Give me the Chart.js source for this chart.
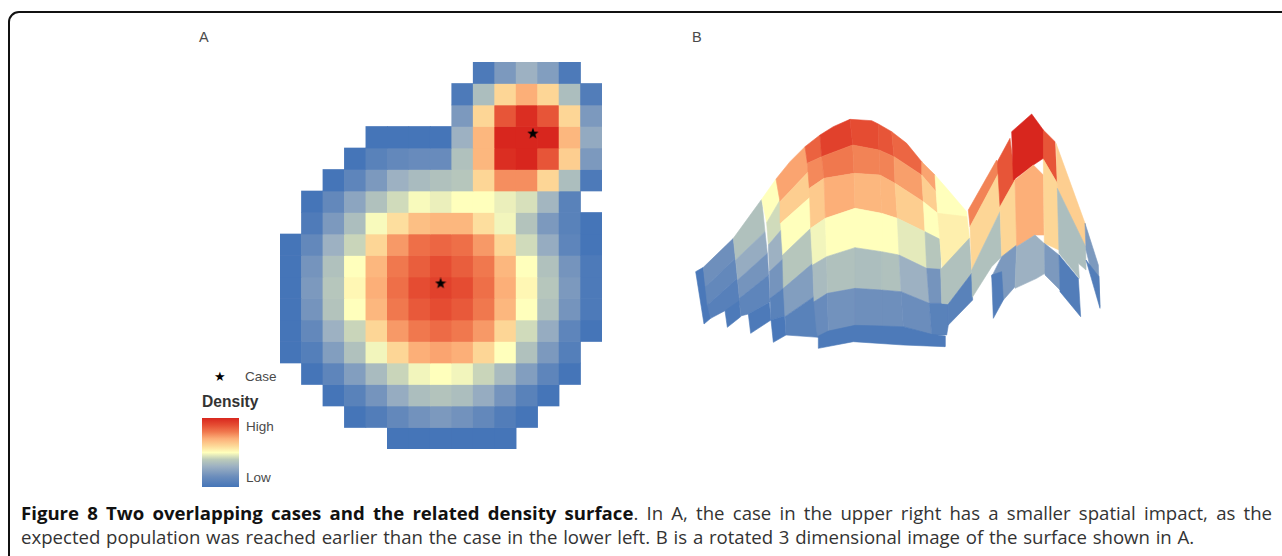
<!DOCTYPE html>
<html>
<head>
<meta charset="utf-8">
<title>Figure 8</title>
<script src="https://cdn.jsdelivr.net/npm/chart.js@4/dist/chart.umd.js"></script>
<style>
  html, body { margin: 0; background: #fff; }
  #page { position: relative; width: 1282px; height: 556px; overflow: hidden; font-family: "Liberation Sans", sans-serif; color: #4a4a4a; }
  #frame { position: absolute; left: 8px; top: 11px; width: 1400px; height: 700px; border: 2px solid #111; border-radius: 11px; box-sizing: border-box; }
  #gridBox { position: absolute; left: 280px; top: 62px; width: 322px; height: 387px; filter: blur(0.5px); }
  #surfaceBox { position: absolute; left: 690px; top: 100px; width: 420px; height: 260px; filter: blur(0.5px); }
  .tag { position: absolute; font-size: 13.5px; line-height: 14px; white-space: nowrap; }
  #ramp { position: absolute; left: 202px; top: 418px; width: 37px; height: 69px; filter: blur(0.4px); }
  .caption { position: absolute; left: 21px; width: 1251px; font-family: "Open Sans", sans-serif; font-size: 18.6px; line-height: 24px; word-spacing: 0.9px; color: #333; white-space: nowrap; }
  .caption b { color: #111; }
</style>
</head>
<body>
<div id="page">
  <div id="frame"></div>
  <div class="tag" style="left:199px;top:30px;font-size:14.5px">A</div>
  <div class="tag" style="left:692px;top:30px;font-size:14.5px">B</div>
  <div id="gridBox"><canvas id="gridChart"></canvas></div>
  <div id="surfaceBox"><canvas id="surfaceChart"></canvas></div>
  <div class="tag" style="left:214px;top:370px;color:#000;font-size:12.5px">★</div>
  <div class="tag" style="left:245px;top:370px">Case</div>
  <div class="tag" style="left:202px;top:395px;font-weight:bold;font-size:15.6px;color:#333">Density</div>
  <div id="ramp"></div>
  <div class="tag" style="left:246px;top:420px">High</div>
  <div class="tag" style="left:246px;top:471px">Low</div>
  <div class="caption" style="top:501px;white-space:normal;text-align:justify;text-align-last:justify"><b>Figure 8 Two overlapping cases and the related density surface</b>. In A, the case in the upper right has a smaller spatial impact, as the</div>
  <div class="caption" style="top:525px">expected population was reached earlier than the case in the lower left. B is a rotated 3 dimensional image of the surface shown in A.</div>
</div>
<script>
// colour ramp of the density legend, low to high
const rampStops = [0, 0.15, 0.3, 0.4, 0.5, 0.6, 0.7, 0.8, 0.9, 1];
const rampColors = ["#4575b8", "#6b8dbc", "#9db1c2", "#bccbba", "#ffffbc", "#fdd696", "#fcaf78", "#f0784e", "#e54c32", "#d8261e"];

// panel A, density per cell: first occupied column of each row, then the values
const firstColumn = [9, 8, 8, 4, 3, 2, 1, 1, 0, 0, 0, 0, 0, 0, 1, 2, 3, 5];
const densityRows = [
  [.03, .2, .3, .22, .03],
  [.03, .35, .6, .7, .6, .35, .05],
  [.2, .6, .88, .98, .88, .6, .2],
  [0, 0, 0, 0, .3, .68, 1, 1, 1, .68, .27],
  [0, .08, .12, .14, .14, .36, .68, .98, 1, .88, .62, .2],
  [0, .1, .2, .3, .34, .36, .38, .6, .76, .76, .6, .35, .03],
  [0, .12, .25, .36, .43, .49, .47, .5, .5, .47, .44, .32, .08],
  [.04, .2, .35, .49, .58, .66, .68, .68, .58, .48, .37, .2, .08, 0],
  [0, .12, .3, .42, .6, .74, .82, .84, .82, .74, .6, .43, .28, .1, 0],
  [0, .18, .36, .5, .68, .8, .86, .9, .86, .8, .68, .5, .36, .18, .03],
  [0, .2, .38, .52, .7, .82, .9, .93, .9, .82, .7, .52, .38, .2, .03],
  [0, .18, .37, .5, .68, .8, .87, .9, .87, .8, .68, .5, .36, .18, .03],
  [0, .12, .3, .42, .6, .74, .8, .83, .8, .74, .6, .43, .28, .1, 0],
  [0, .06, .22, .36, .48, .6, .7, .72, .7, .6, .5, .36, .2, .06],
  [0, .1, .22, .34, .42, .48, .5, .48, .42, .34, .22, .1, 0],
  [0, .08, .18, .28, .35, .37, .35, .28, .18, .08, 0],
  [0, .05, .12, .17, .2, .17, .12, .05, 0],
  [0, 0, 0, 0, 0, 0]
];
const columnLabels = ["0", "1", "2", "3", "4", "5", "6", "7", "8", "9", "10", "11", "12", "13", "14"];
const caseX = [11.78, 7.48];
const caseY = [3.33, 10.3];

// panel B, the rotated surface: density of each facet and its outline (x, y pairs), back to front
const facetLevels = [
  .02, .16, .12, .07, .03,
  .36, .28, .18, .1, .03,
  .5, .43, .3, .18, .08, .02,
  .72, .62, .5, .38, .22, .08,
  .85, .77, .63, .48, .34, .14,
  .93, .8, .7, .5, .36, .17,
  .9, .78, .68, .5, .35, .16,
  .88, .78, .68, .5, .36, .16,
  .84, .73, .62, .46, .3, .15,
  .72, .62, .5, .38, .18, .08,
  .5, .54, .36, .08,
  .03,
  .78, .6, .36,
  .88, .6, .2, .05,
  1, .7, .3,
  .88, .6, .2, .05,
  .62, .35, .2, .05
];
const facetOutlines = [
  [17,515, 40,502, 62,655, 42,672],
  [40,502, 130,415, 136,475, 46,560],
  [46,560, 136,475, 142,535, 52,615],
  [52,615, 142,535, 150,615, 105,632, 62,655],
  [105,632, 148,602, 152,650, 112,682],
  [130,415, 215,298, 225,395, 137,480],
  [137,480, 225,395, 232,460, 143,540],
  [143,540, 232,460, 236,525, 148,595],
  [148,595, 236,525, 240,605, 175,642, 152,648],
  [175,642, 238,607, 243,660, 182,700],
  [215,298, 258,237, 270,300, 230,368],
  [230,368, 270,300, 275,388, 235,435],
  [235,435, 275,388, 280,475, 238,515],
  [238,515, 280,475, 282,563, 240,595],
  [240,595, 282,563, 284,648, 243,660],
  [243,660, 284,648, 288,705, 250,727],
  [258,237, 300,185, 345,140, 355,215, 270,305],
  [270,305, 355,215, 362,290, 272,370],
  [272,370, 362,290, 362,385, 278,465],
  [278,465, 362,385, 368,490, 280,565],
  [280,565, 368,490, 372,590, 285,650],
  [285,650, 372,590, 385,680, 385,712, 288,705],
  [345,140, 390,105, 395,170, 352,190],
  [352,190, 395,170, 402,235, 358,265],
  [358,265, 402,235, 406,355, 362,385],
  [362,385, 406,355, 410,470, 368,495],
  [368,495, 410,470, 412,580, 372,605],
  [372,605, 412,580, 415,695, 385,712, 380,695],
  [390,105, 430,80, 480,58, 488,135, 395,170],
  [395,170, 488,135, 492,220, 402,235],
  [402,235, 492,220, 495,325, 406,355],
  [406,355, 495,325, 495,443, 410,470],
  [410,470, 495,443, 495,565, 412,580],
  [412,580, 495,565, 495,678, 415,695],
  [480,58, 545,62, 565,72, 567,150, 488,135],
  [488,135, 567,150, 570,225, 492,220],
  [492,220, 570,225, 575,340, 495,325],
  [495,325, 575,340, 575,455, 495,443],
  [495,443, 575,455, 575,570, 495,565],
  [495,565, 575,570, 575,680, 495,678],
  [565,72, 605,95, 612,170, 567,150],
  [567,150, 612,170, 615,250, 570,225],
  [570,225, 615,250, 622,355, 575,340],
  [575,340, 622,355, 627,465, 575,455],
  [575,455, 627,465, 633,575, 575,570],
  [575,570, 633,575, 640,680, 575,680],
  [605,95, 650,130, 695,185, 695,225, 612,170],
  [612,170, 695,225, 700,305, 615,250],
  [615,250, 700,305, 705,395, 622,355],
  [622,355, 705,395, 710,505, 627,465],
  [627,465, 710,505, 718,610, 633,575],
  [633,575, 718,610, 725,705, 640,680],
  [695,185, 735,225, 738,275, 695,225],
  [695,225, 738,275, 743,340, 700,305],
  [700,305, 743,340, 750,418, 705,395],
  [705,395, 750,418, 752,508, 710,505],
  [710,505, 752,508, 755,610, 718,610],
  [718,610, 755,610, 775,612, 775,675, 770,705, 725,705],
  [735,225, 770,265, 830,335, 838,415, 757,508, 750,418, 743,340],
  [743,340, 830,350, 838,415, 757,508, 750,418],
  [752,508, 838,415, 845,520, 775,612, 755,610],
  [775,612, 845,520, 848,600, 775,675],
  [385,708, 415,693, 495,676, 575,678, 640,680, 725,703, 765,708, 765,740, 640,735, 490,725, 385,745],
  [835,330, 920,180, 928,215, 840,380],
  [840,380, 928,215, 930,335, 845,510],
  [845,510, 930,335, 935,470, 905,500, 847,592],
  [922,185, 960,115, 975,240, 930,320],
  [930,320, 975,240, 980,435, 935,470],
  [935,470, 980,435, 975,560, 940,600, 905,530],
  [905,525, 935,515, 940,600, 910,655],
  [965,95, 1025,42, 1060,90, 1060,175, 1030,195, 970,240],
  [975,240, 1030,195, 1060,225, 1062,405, 1035,405, 980,440],
  [980,440, 1035,405, 1062,430, 1065,520, 1040,535, 975,565],
  [1060,90, 1095,125, 1102,250, 1060,178],
  [1060,178, 1102,250, 1107,450, 1063,430],
  [1063,430, 1107,465, 1110,570, 1065,525],
  [1107,465, 1165,535, 1172,650, 1110,575],
  [1098,130, 1185,370, 1185,440, 1102,265],
  [1102,265, 1187,440, 1188,510, 1165,490, 1168,535, 1107,460],
  [1185,370, 1225,495, 1230,620, 1188,450],
  [1188,480, 1227,530, 1230,625]
];

// maps a density to a colour of the ramp
function densityColor (value) {
  let i = 0;
  while (i < rampStops.length - 2 && value > rampStops[i + 1]) i++;
  const t = (value - rampStops[i]) / (rampStops[i + 1] - rampStops[i]);
  const a = parseInt(rampColors[i].slice(1), 16);
  const b = parseInt(rampColors[i + 1].slice(1), 16);
  const mix = (shift) => Math.round(((a >> shift) & 255) * (1 - t) + ((b >> shift) & 255) * t);
  return `rgb(${mix(16)},${mix(8)},${mix(0)})`;
}

function makeStar (size) {
  const star = document.createElement("canvas");
  star.width = star.height = size;
  const ctx = star.getContext("2d");
  ctx.beginPath();
  for (let i = 0; i < 10; i++) {
    const r = (i % 2 ? 0.2 : 0.5) * size;
    const a = -Math.PI / 2 + i * Math.PI / 5;
    ctx.lineTo(size / 2 + r * Math.cos(a), size / 2 + r * Math.sin(a));
  }
  ctx.closePath();
  ctx.fillStyle = "#000";
  ctx.fill();
  return star;
}

document.getElementById("ramp").style.background = "linear-gradient(to top," +
  rampColors.map((c, i) => `${c} ${rampStops[i] * 100}%`).join(",") + ")";

Chart.defaults.animation = false;
Chart.defaults.responsive = true;
Chart.defaults.maintainAspectRatio = false;
Chart.defaults.plugins.legend.display = false;
Chart.defaults.plugins.tooltip.enabled = false;

const rowDatasets = densityRows.map((row, r) => {
  const spans = columnLabels.map(() => null);
  const colors = columnLabels.map(() => "transparent");
  row.forEach((value, i) => {
    spans[firstColumn[r] + i] = [r, r + 1];
    colors[firstColumn[r] + i] = densityColor(value);
  });
  return { type: "bar", data: spans, backgroundColor: colors, barPercentage: 1, categoryPercentage: 1, grouped: false, order: 2 };
});

new Chart(document.getElementById("gridChart"), {
  data: {
    labels: columnLabels,
    datasets: [
      {
        type: "scatter",
        xAxisID: "xCase",
        data: caseX.map((x, i) => ({ x, y: caseY[i] })),
        pointStyle: makeStar(12),
        order: 1
      },
      ...rowDatasets
    ]
  },
  options: {
    layout: { padding: 0, autoPadding: false },
    scales: {
      x: { display: false, type: "category" },
      xCase: { display: false, type: "linear", min: 0, max: 15 },
      y: { display: false, type: "linear", min: 0, max: 18, reverse: true }
    }
  }
});

// first dataset ends up on top, so the list is turned round
const facetDatasets = facetOutlines.map((outline, i) => {
  const data = [];
  for (let k = 0; k < outline.length; k += 2) data.push({ x: outline[k], y: outline[k + 1] });
  data.push(data[0]);
  const color = densityColor(facetLevels[i]);
  return { data, showLine: true, fill: "shape", backgroundColor: color, borderColor: color, borderWidth: 0.6, pointRadius: 0, tension: 0 };
}).reverse();

new Chart(document.getElementById("surfaceChart"), {
  type: "scatter",
  data: { datasets: facetDatasets },
  options: {
    layout: { padding: 0, autoPadding: false },
    scales: {
      x: { display: false, type: "linear", min: 0, max: 1260 },
      y: { display: false, type: "linear", min: 0, max: 780, reverse: true }
    }
  }
});
</script>
</body>
</html>
